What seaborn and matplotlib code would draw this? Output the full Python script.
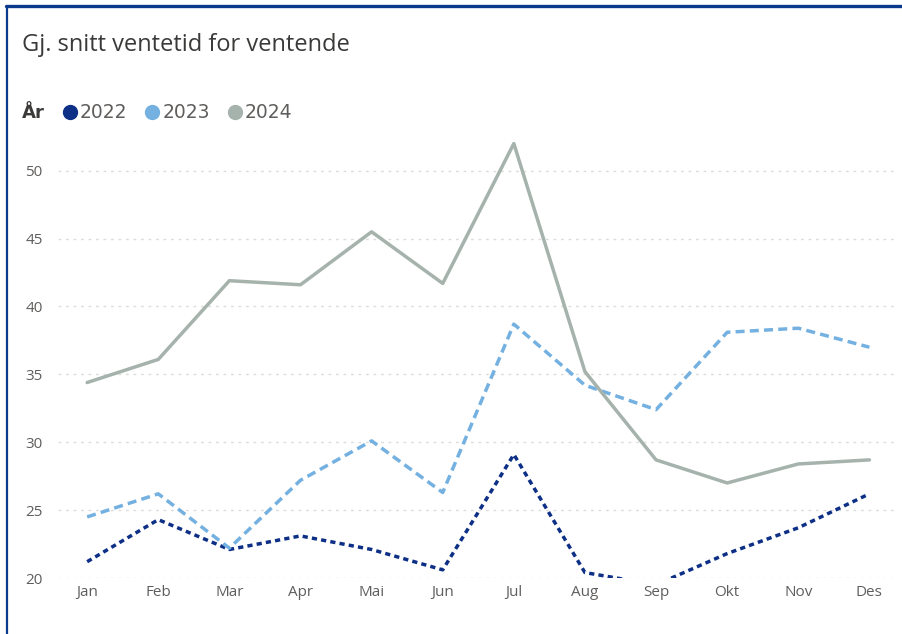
import matplotlib
matplotlib.use('Agg')
import matplotlib.pyplot as plt
from matplotlib.lines import Line2D
import pandas as pd
import seaborn as sns

# Data
months = ['Jan', 'Feb', 'Mar', 'Apr', 'Mai', 'Jun', 'Jul', 'Aug', 'Sep', 'Okt', 'Nov', 'Des']
years = ['2022', '2023', '2024']
v2022 = [21.2, 24.3, 22.1, 23.1, 22.1, 20.6, 29.1, 20.4, 19.5, 21.8, 23.7, 26.2]
v2023 = [24.5, 26.2, 22.2, 27.2, 30.1, 26.3, 38.7, 34.2, 32.4, 38.1, 38.4, 37.0]
v2024 = [34.4, 36.1, 41.9, 41.6, 45.5, 41.7, 52.0, 35.2, 28.7, 27.0, 28.4, 28.7]

colors = {'2022': '#0d2f86', '2023': '#74b1e1', '2024': '#a6b3ad'}
dashes = {'2022': (1.5, 1.2), '2023': (2.6, 1.5), '2024': ''}

df = pd.DataFrame({
    'month': months * 3,
    'pos': list(range(12)) * 3,
    'year': [y for y in years for _ in months],
    'value': v2022 + v2023 + v2024,
})

sns.set_theme(style='white')
plt.rcParams['font.family'] = ['Open Sans', 'DejaVu Sans']

fig = plt.figure(figsize=(9.02, 6.34), dpi=100)
ax = fig.add_axes([58 / 902, 1 - 578 / 634, (895 - 58) / 902, (578 - 130) / 634])

sns.lineplot(data=df, x='pos', y='value', hue='year', style='year',
             palette=colors, dashes=dashes, linewidth=2.5, ax=ax,
             legend=False, sort=False)

ax.set_xlim(-0.41, 11.36)
ax.set_ylim(20, 53)
ax.set_xticks(range(12))
ax.set_xticklabels(months)
ax.set_yticks([20, 25, 30, 35, 40, 45, 50])
ax.tick_params(axis='both', labelsize=11, labelcolor='#605e5c', length=0)
ax.tick_params(axis='x', pad=5)
ax.tick_params(axis='y', pad=11)
ax.set_xlabel('')
ax.set_ylabel('')
ax.grid(axis='y', color='#dcdcdc', linewidth=1, linestyle=(0, (2, 3.4)))
ax.grid(axis='x', visible=False)
for s in ax.spines.values():
    s.set_visible(False)

# title and legend
fig.text(22 / 902, 1 - 45 / 634, 'Gj. snitt ventetid for ventende', fontsize=17,
         color='#3b3a39', va='center', ha='left')
fig.text(22 / 902, 1 - 113 / 634, 'År', fontsize=13, fontweight='bold',
         color='#3b3a39', va='center', ha='left', family=['DejaVu Sans'])
handles = [Line2D([], [], linestyle='', marker='o', markersize=10,
                  markerfacecolor=colors[y], markeredgecolor=colors[y]) for y in years]
fig.legend(handles, years, loc='center left', bbox_to_anchor=(53 / 902, 1 - 113 / 634),
           ncol=3, frameon=False, prop={'family': ['DejaVu Sans'], 'size': 13.5},
           labelcolor='#605e5c', handlelength=0.8, handletextpad=0.12,
           columnspacing=0.95, borderpad=0)

# border on top and left
fig.add_artist(Line2D([6 / 902, 1], [1 - 6 / 634, 1 - 6 / 634], transform=fig.transFigure,
                      color='#0b3a8c', linewidth=2.4))
fig.add_artist(Line2D([7 / 902, 7 / 902], [0, 1 - 6 / 634], transform=fig.transFigure,
                      color='#0b3a8c', linewidth=1.6))

fig.savefig('out.png', dpi=100)
